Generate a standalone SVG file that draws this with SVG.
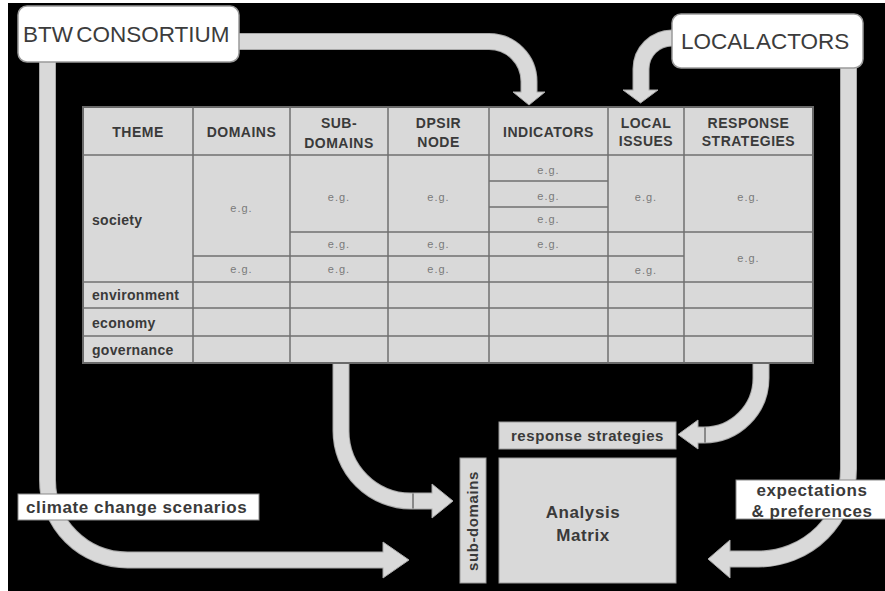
<svg xmlns="http://www.w3.org/2000/svg" width="885" height="591" viewBox="0 0 885 591">
  <style>
    text { font-family: "Liberation Sans", Arial, sans-serif; }
    .edge { fill: none; stroke: #a8a8a8; stroke-width: 17; }
    .band { fill: none; stroke: #d9d9d9; stroke-width: 15; }
    .head { fill: #d9d9d9; stroke: #a8a8a8; stroke-width: 1; }
    .seam { stroke: #3a3a3a; stroke-width: 1; }
    .actor { fill: #ffffff; stroke: #9a9a9a; stroke-width: 1.5; }
    .actor-t { font-size: 22.5px; fill: #3c3c3c; word-spacing: -3px; }
    .cell { fill: #d9d9d9; stroke: #6a6a6a; stroke-width: 2; }
    .grid { stroke: #6f6f6f; stroke-width: 1.5; }
    .hd { font-size: 14px; font-weight: bold; fill: #3a3a3a; text-anchor: middle; letter-spacing: 0.5px; }
    .th { font-size: 14px; font-weight: bold; fill: #3a3a3a; letter-spacing: 0.3px; }
    .eg { font-size: 11px; fill: #7a7a7a; text-anchor: middle; letter-spacing: 1px; }
    .tag { fill: #ffffff; stroke: #8a8a8a; stroke-width: 1; }
    .tag-t { font-size: 17px; font-weight: bold; fill: #3a3a3a; letter-spacing: 0.6px; }
    .grey { fill: #d9d9d9; stroke: #9a9a9a; stroke-width: 1; }
    .grey-t { font-size: 15px; font-weight: bold; fill: #3a3a3a; letter-spacing: 0.6px; text-anchor: middle; }
  </style>

  <!-- frame and background -->
  <rect x="0" y="0" width="885" height="591" fill="#ffffff"/>
  <rect x="8" y="3" width="877" height="588" fill="#000000"/>

  <!-- connectors -->
  <g id="connectors">
    <path class="edge" d="M 239 41.5 H 489 A 40 40 0 0 1 529 81.5 V 92"/>
    <path class="edge" d="M 672 38 A 31 31 0 0 0 641 69 V 90"/>
    <path class="edge" d="M 47.5 62 V 480 A 80 80 0 0 0 127.5 560 H 383"/>
    <path class="edge" d="M 341 363 V 431 A 70 70 0 0 0 411 501 H 432"/>
    <path class="edge" d="M 761 363 V 378 A 57 57 0 0 1 704 435 H 698"/>
    <path class="edge" d="M 848.5 68 V 469 A 90 90 0 0 1 758.5 559 H 730"/>

    <polygon class="head" points="513,92 545,92 529,105"/>
    <polygon class="head" points="623,90 658,90 640.5,103"/>
    <polygon class="head" points="383,542 383,578 409,560"/>
    <polygon class="head" points="432,484 432,518 453,501"/>
    <polygon class="head" points="698,420 698,449 678,434.5"/>
    <polygon class="head" points="730,540 730,578 708,559"/>

    <path class="band" d="M 239 41.5 H 489 A 40 40 0 0 1 529 81.5 V 94"/>
    <path class="band" d="M 672 38 A 31 31 0 0 0 641 69 V 92"/>
    <path class="band" d="M 47.5 62 V 480 A 80 80 0 0 0 127.5 560 H 385"/>
    <path class="band" d="M 341 363 V 431 A 70 70 0 0 0 411 501 H 434"/>
    <path class="band" d="M 761 363 V 378 A 57 57 0 0 1 704 435 H 696"/>
    <path class="band" d="M 848.5 68 V 469 A 90 90 0 0 1 758.5 559 H 728"/>

    <line class="seam" x1="413" y1="493.5" x2="413" y2="508.5"/>
    <line class="seam" x1="705" y1="427.5" x2="705" y2="442.5"/>
  </g>

  <!-- source actors -->
  <g id="btw-consortium">
    <rect class="actor" x="18" y="6" width="221" height="56" rx="9"/>
    <text class="actor-t" x="23" y="42">BTW CONSORTIUM</text>
  </g>
  <g id="local-actors">
    <rect class="actor" x="672" y="14" width="191" height="54" rx="9"/>
    <text class="actor-t" x="681" y="49">LOCAL ACTORS</text>
  </g>

  <!-- theme / domain table -->
  <g id="theme-table">
    <rect class="cell" x="83" y="107" width="730" height="256"/>
    <!-- column rules -->
    <line class="grid" x1="193" y1="107" x2="193" y2="363"/>
    <line class="grid" x1="290" y1="107" x2="290" y2="363"/>
    <line class="grid" x1="388" y1="107" x2="388" y2="363"/>
    <line class="grid" x1="489" y1="107" x2="489" y2="363"/>
    <line class="grid" x1="608" y1="107" x2="608" y2="363"/>
    <line class="grid" x1="684" y1="107" x2="684" y2="363"/>
    <!-- row rules -->
    <line class="grid" x1="83" y1="155" x2="813" y2="155"/>
    <line class="grid" x1="83" y1="282" x2="813" y2="282"/>
    <line class="grid" x1="83" y1="308" x2="813" y2="308"/>
    <line class="grid" x1="83" y1="336" x2="813" y2="336"/>
    <line class="grid" x1="290" y1="232" x2="813" y2="232"/>
    <line class="grid" x1="193" y1="256" x2="684" y2="256"/>
    <line class="grid" x1="489" y1="181" x2="608" y2="181"/>
    <line class="grid" x1="489" y1="207" x2="608" y2="207"/>

    <!-- header -->
    <text class="hd" x="138" y="137">THEME</text>
    <text class="hd" x="241.5" y="137">DOMAINS</text>
    <text class="hd" x="339" y="128">SUB-</text>
    <text class="hd" x="339" y="148">DOMAINS</text>
    <text class="hd" x="438.5" y="128">DPSIR</text>
    <text class="hd" x="438.5" y="147">NODE</text>
    <text class="hd" x="548.5" y="137">INDICATORS</text>
    <text class="hd" x="646" y="128">LOCAL</text>
    <text class="hd" x="646" y="146">ISSUES</text>
    <text class="hd" x="748.5" y="128">RESPONSE</text>
    <text class="hd" x="748.5" y="146">STRATEGIES</text>

    <!-- themes -->
    <text class="th" x="92" y="225">society</text>
    <text class="th" x="92" y="300">environment</text>
    <text class="th" x="92" y="328">economy</text>
    <text class="th" x="92" y="355">governance</text>

    <!-- example entries -->
    <text class="eg" x="241.5" y="212">e.g.</text>
    <text class="eg" x="241.5" y="273">e.g.</text>
    <text class="eg" x="339" y="201">e.g.</text>
    <text class="eg" x="339" y="248">e.g.</text>
    <text class="eg" x="339" y="273">e.g.</text>
    <text class="eg" x="438.5" y="201">e.g.</text>
    <text class="eg" x="438.5" y="248">e.g.</text>
    <text class="eg" x="438.5" y="273">e.g.</text>
    <text class="eg" x="548.5" y="174">e.g.</text>
    <text class="eg" x="548.5" y="200">e.g.</text>
    <text class="eg" x="548.5" y="223">e.g.</text>
    <text class="eg" x="548.5" y="248">e.g.</text>
    <text class="eg" x="646" y="201">e.g.</text>
    <text class="eg" x="646" y="274">e.g.</text>
    <text class="eg" x="748.5" y="201">e.g.</text>
    <text class="eg" x="748.5" y="262">e.g.</text>
  </g>

  <!-- flow labels -->
  <g id="climate-change-scenarios">
    <rect class="tag" x="18" y="494" width="241" height="26"/>
    <text class="tag-t" x="26" y="513">climate change scenarios</text>
  </g>
  <g id="expectations-preferences">
    <rect class="tag" x="736" y="480" width="152" height="39"/>
    <text class="tag-t" x="812" y="496" text-anchor="middle">expectations</text>
    <text class="tag-t" x="812" y="517" text-anchor="middle">&amp; preferences</text>
  </g>
  <g id="response-strategies">
    <rect class="grey" x="499" y="422" width="177" height="27"/>
    <text class="grey-t" x="587.5" y="441">response strategies</text>
  </g>
  <g id="sub-domains">
    <rect class="grey" x="460" y="458" width="26" height="125"/>
    <text class="grey-t" transform="translate(478 521) rotate(-90)" x="0" y="0">sub-domains</text>
  </g>

  <!-- analysis matrix -->
  <g id="analysis-matrix">
    <rect class="grey" x="499" y="458" width="177" height="125"/>
    <text class="grey-t" x="583" y="518" style="font-size:17px">Analysis</text>
    <text class="grey-t" x="583" y="541" style="font-size:17px">Matrix</text>
  </g>
</svg>
